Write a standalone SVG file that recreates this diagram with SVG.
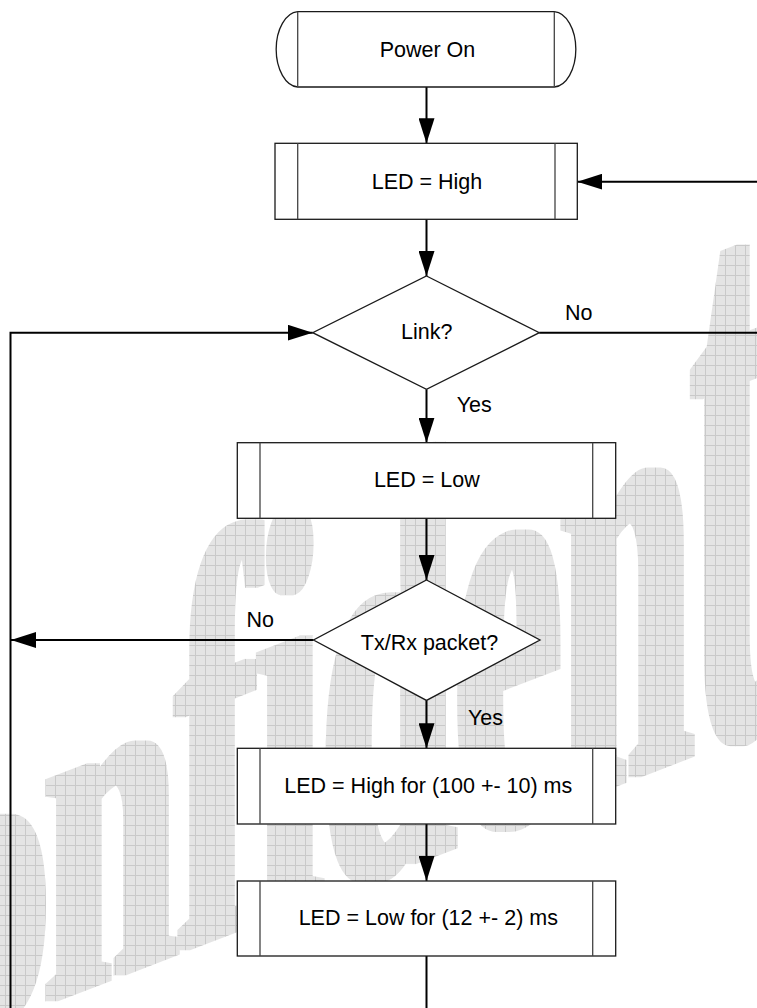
<svg xmlns="http://www.w3.org/2000/svg" width="757" height="1008" viewBox="0 0 757 1008">
<style>
.lbl{font-family:"Liberation Sans",Arial,sans-serif;font-size:21.5px;fill:#000}
.mid{text-anchor:middle}
.box{fill:#fff;stroke:#1a1a1a;stroke-width:1.3}
.inner{fill:none;stroke:#444;stroke-width:1.3}
.conn{fill:none;stroke:#000;stroke-width:2}
.wm{font-family:"Liberation Serif","Times New Roman",serif;font-weight:bold;font-size:100px;fill:#fff}
</style>
<defs>
<pattern id="grid" patternUnits="userSpaceOnUse" x="5" y="5" width="10" height="10">
<rect width="10" height="10" fill="#e4e4e4"/>
<path d="M0,0.5 H10 M0.5,0 V10" stroke="#c9c9c9" stroke-width="1"/>
</pattern>
<filter id="thick" x="-20%" y="-10%" width="140%" height="120%">
<feMorphology operator="dilate" radius="6 1"/>
</filter>
<mask id="wmask" maskUnits="userSpaceOnUse" x="0" y="0" width="757" height="1008">
<g filter="url(#thick)">
<text class="wm" transform="translate(-70,1048) skewY(-21) scale(2.38,4.4)">o</text>
<text class="wm" transform="translate(45,1003) skewY(-21) scale(2.38,4.8)">n</text>
<text class="wm" transform="translate(177,952) skewY(-21) scale(2.38,5.75)">f</text>
<text class="wm" transform="translate(256,922) skewY(-21) scale(2.38,5.8)">i</text>
<text class="wm" transform="translate(322,897) skewY(-21) scale(2.38,5.9)">d</text>
<text class="wm" transform="translate(455,846) skewY(-21) scale(2.38,6.2)">e</text>
<text class="wm" transform="translate(560,805) skewY(-21) scale(2.38,6.4)">n</text>
<text class="wm" transform="translate(692,755) skewY(-21) scale(2.38,8.7)">t</text>
</g>
</mask>
<marker id="arr" markerUnits="userSpaceOnUse" markerWidth="25" markerHeight="16" refX="25" refY="8" orient="auto">
<path d="M0,0 L25,8 L0,16 Z" fill="#000"/>
</marker>
</defs>
<rect width="757" height="1008" fill="#fff"/>
<g id="watermark">
<rect width="757" height="1008" fill="url(#grid)" mask="url(#wmask)"/>
</g>
<g id="connectors">
<path class="conn" d="M426.5,87 V143.3" marker-end="url(#arr)"/>
<path class="conn" d="M426.5,219.3 V276" marker-end="url(#arr)"/>
<path class="conn" d="M426.5,389.3 V442.7" marker-end="url(#arr)"/>
<path class="conn" d="M539.3,332.7 H760 V181.7 H577.3" marker-end="url(#arr)"/>
<path class="conn" d="M426.5,518.3 V580" marker-end="url(#arr)"/>
<path class="conn" d="M313.5,640 H11" marker-end="url(#arr)"/>
<path class="conn" d="M426.5,700.4 V748.3" marker-end="url(#arr)"/>
<path class="conn" d="M426.5,824 V881" marker-end="url(#arr)"/>
<path class="conn" d="M426.5,956 V1020 H10.5 V332.7 H312.7" marker-end="url(#arr)"/>
<text class="lbl" x="565" y="320">No</text>
<text class="lbl" x="456.7" y="411.7">Yes</text>
<text class="lbl" x="246.4" y="627">No</text>
<text class="lbl" x="468" y="725">Yes</text>
</g>
<g id="power-on">
<path class="box" d="M297.7,11.7 H554.3 A22.7,37.7 0 0 1 554.3,87 H297.7 A22.7,37.7 0 0 1 297.7,11.7 Z"/>
<path class="inner" d="M297.7,11.7 V87 M554.3,11.7 V87"/>
<text class="lbl mid" x="427.5" y="57">Power On</text>
</g>
<g id="led-high">
<rect class="box" x="275" y="143.3" width="302.3" height="76"/>
<path class="inner" d="M297.7,143.3 V219.3 M555,143.3 V219.3"/>
<text class="lbl mid" x="427" y="189.3">LED = High</text>
</g>
<g id="link">
<path class="box" d="M426.5,276 L539.3,332.7 L426.5,389.3 L312.7,332.7 Z"/>
<text class="lbl mid" x="426.7" y="339.3">Link?</text>
</g>
<g id="led-low">
<rect class="box" x="237.3" y="442.7" width="378.4" height="75.6"/>
<path class="inner" d="M260,442.7 V518.3 M592.7,442.7 V518.3"/>
<text class="lbl mid" x="426.8" y="487.3">LED = Low</text>
</g>
<g id="txrx">
<path class="box" d="M426.5,580 L540,640 L426.5,700.4 L313.5,640 Z"/>
<text class="lbl mid" x="429.5" y="650">Tx/Rx packet?</text>
</g>
<g id="led-high-for">
<rect class="box" x="237.3" y="748.3" width="378.4" height="75.7"/>
<path class="inner" d="M260,748.3 V824 M592.7,748.3 V824"/>
<text class="lbl mid" x="428.3" y="793.3">LED = High for (100 +- 10) ms</text>
</g>
<g id="led-low-for">
<rect class="box" x="237.3" y="881" width="378.4" height="75"/>
<path class="inner" d="M260,881 V956 M592.7,881 V956"/>
<text class="lbl mid" x="428.3" y="925">LED = Low for (12 +- 2) ms</text>
</g>
</svg>
